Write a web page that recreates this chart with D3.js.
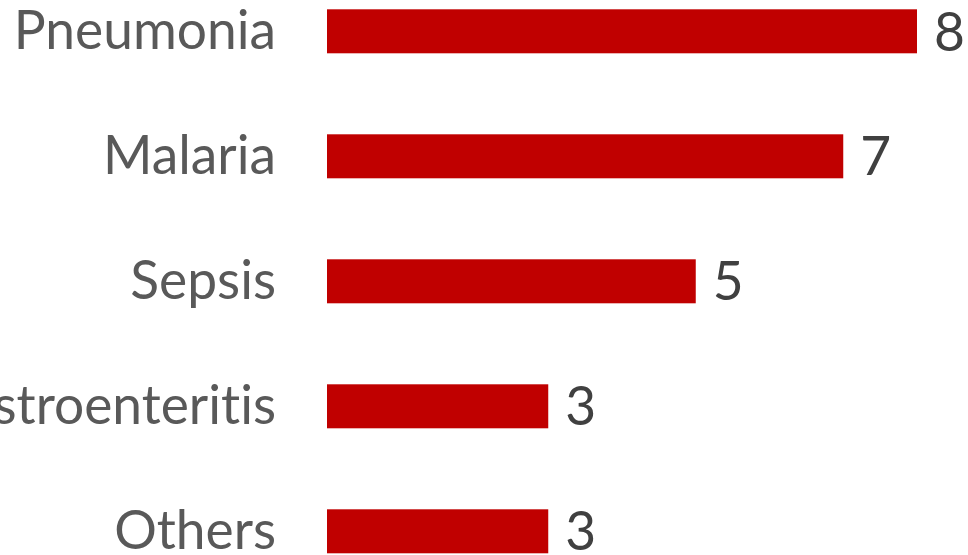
<!DOCTYPE html>
<html>
<head>
<meta charset="utf-8">
<script src="https://cdn.jsdelivr.net/npm/d3@7"></script>
<style>
  html, body { margin: 0; padding: 0; background: #ffffff; }
  svg { display: block; }
  text { font-variant-ligatures: none; font-feature-settings: "liga" 0; }
</style>
</head>
<body>
<div id="chart"></div>
<script>
// Data
const causes = ["Pneumonia", "Malaria", "Sepsis", "Gastroenteritis", "Others"];
const counts = [8, 7, 5, 3, 3];

const width = 968,
    height = 555;

const svg = d3.select("#chart")
    .append("svg")
    .attr("width", width)
    .attr("height", height);

// Scales
const xScale = d3.scaleLinear()
    .domain([0, 8])
    .range([327, 917]);

const yScale = d3.scaleBand()
    .domain(causes)
    .range([9.3, 553.3])
    .paddingInner(0.648)
    .paddingOuter(0);

const data = causes.map((c, i) => ({ cause: c, value: counts[i] }));

// Bars
svg.selectAll("rect.bar")
    .data(data)
    .enter()
    .append("rect")
    .attr("class", "bar")
    .attr("x", xScale(0))
    .attr("y", d => yScale(d.cause))
    .attr("width", d => xScale(d.value) - xScale(0))
    .attr("height", yScale.bandwidth())
    .attr("fill", "#c00000");

// Category labels
svg.selectAll("text.cat")
    .data(data)
    .enter()
    .append("text")
    .attr("class", "cat")
    .attr("x", xScale(0) - 51)
    .attr("y", d => yScale(d.cause) + yScale.bandwidth() / 2)
    .attr("dy", "0.33em")
    .style("text-anchor", "end")
    .style("font-family", "Lato, sans-serif")
    .style("font-size", "53.3px")
    .style("fill", "#595959")
    .text(d => d.cause);

// Value labels
svg.selectAll("text.val")
    .data(data)
    .enter()
    .append("text")
    .attr("class", "val")
    .attr("x", d => xScale(d.value) + 17)
    .attr("y", d => yScale(d.cause) + yScale.bandwidth() / 2)
    .attr("dy", "0.36em")
    .style("font-family", "Lato, sans-serif")
    .style("font-size", "53.3px")
    .style("fill", "#404040")
    .text(d => d.value);
</script>
</body>
</html>
